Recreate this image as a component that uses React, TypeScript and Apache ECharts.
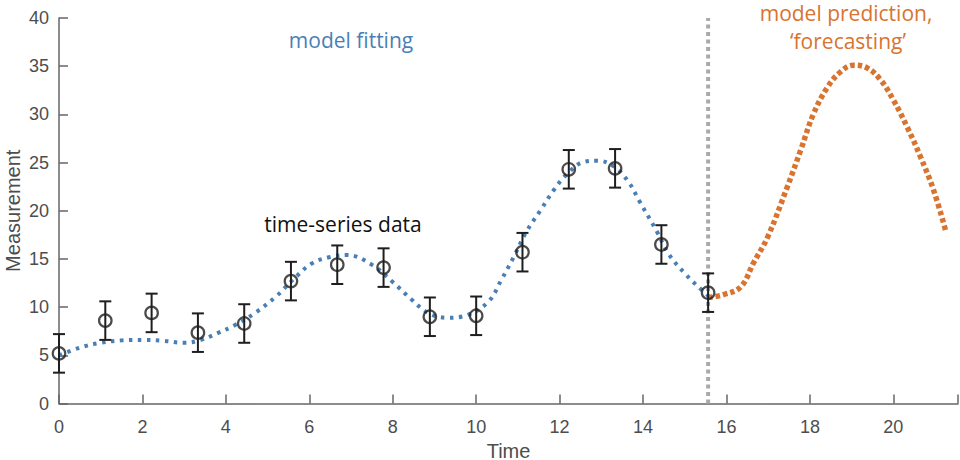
import React, { useEffect, useRef } from "react";
import * as echarts from "echarts";

// Observed time-series data (time, measurement, error half-width)
const dataTime = [0, 1.11, 2.22, 3.33, 4.44, 5.56, 6.67, 7.78, 8.89, 10.0, 11.11, 12.22, 13.33, 14.44, 15.56];
const dataValue = [5.2, 8.6, 9.4, 7.35, 8.3, 12.7, 14.4, 14.1, 9.0, 9.1, 15.7, 24.3, 24.4, 16.5, 11.5];
const dataError = [2, 2, 2, 2, 2, 2, 2, 2, 2, 2, 2, 2, 2, 2, 2];

// Model fit curve
const fitTime = [0, 0.5, 1.0, 1.5, 2.0, 2.5, 3.0, 3.4, 3.8, 4.2, 4.7, 5.2, 5.6, 6.05, 6.5, 6.9, 7.5, 8.0, 8.45, 8.85, 9.3, 9.8, 10.3, 10.6, 10.9, 11.2, 11.55, 11.87, 12.2, 12.6, 12.9, 13.3, 13.65, 13.9, 14.35, 14.6, 15.0, 15.4, 15.56];
const fitValue = [5.0, 5.8, 6.3, 6.55, 6.6, 6.5, 6.3, 6.6, 7.3, 8.1, 9.4, 11.1, 12.8, 14.5, 15.2, 15.4, 14.4, 12.6, 10.8, 9.4, 8.9, 9.2, 10.6, 12.8, 15.2, 17.8, 20.1, 22.2, 23.9, 25.1, 25.2, 24.6, 23.0, 21.1, 17.7, 15.6, 13.5, 11.8, 11.2];

// Forecast curve
const forecastTime = [15.56, 15.93, 16.34, 16.65, 16.99, 17.46, 17.78, 18.09, 18.42, 18.73, 19.04, 19.38, 19.69, 20.0, 20.33, 20.65, 20.96, 21.25];
const forecastValue = [11.0, 11.3, 12.1, 14.6, 17.3, 22.5, 26.3, 30.1, 32.8, 34.4, 35.1, 34.8, 33.6, 31.5, 28.7, 25.6, 22.2, 18.0];

// Boundary between fitting and forecasting
const splitTime = 15.56;
const yRange = [0, 40];
const xRange = [0, 21.55];

const xTicks = [0, 2, 4, 6, 8, 10, 12, 14, 16, 18, 20];

const BLUE = "#4a7fb6";
const ORANGE = "#d8742f";
const AXIS = "#666666";
const LABEL = "#4d4d4d";
const ANNOT_FONT = "'Open Sans', 'Noto Sans', sans-serif";
const AXIS_FONT = "'Liberation Sans', Arial, sans-serif";

export default function App() {
  const ref = useRef<HTMLDivElement>(null);

  useEffect(() => {
    if (!ref.current) return;
    const chart = echarts.init(ref.current, undefined, { renderer: "svg" });

    const pts = dataTime.map((t, i) => [t, dataValue[i]]);
    const errs = dataTime.map((t, i) => [t, dataValue[i] - dataError[i], dataValue[i] + dataError[i]]);

    const option: any = {
      animation: false,
      backgroundColor: "#ffffff",
      grid: { left: 59, right: 2, top: 18, bottom: 56.5, containLabel: false, outerBoundsMode: "none" },
      xAxis: {
        type: "value",
        min: xRange[0],
        max: xRange[1],
        interval: 2,
        name: "Time",
        nameLocation: "middle",
        nameGap: 37,
        nameMoveOverlap: false,
        nameTextStyle: { color: LABEL, fontSize: 20, fontFamily: AXIS_FONT },
        axisLine: { show: true, lineStyle: { color: AXIS, width: 1.5 } },
        axisTick: { show: true, inside: true, length: 9, lineStyle: { color: AXIS, width: 1.5 } },
        axisLabel: {
          color: LABEL,
          fontSize: 18,
          fontFamily: AXIS_FONT,
          margin: 14,
          formatter: (v: number) => (xTicks.includes(v) ? String(v) : ""),
        },
        splitLine: { show: false },
      },
      yAxis: {
        type: "value",
        min: yRange[0],
        max: yRange[1],
        interval: 5,
        name: "Measurement",
        nameLocation: "middle",
        nameGap: 36,
        nameMoveOverlap: false,
        nameRotate: 90,
        nameTextStyle: { color: LABEL, fontSize: 20, fontFamily: AXIS_FONT },
        axisLine: { show: true, lineStyle: { color: AXIS, width: 1.5 } },
        axisTick: { show: true, inside: true, length: 9, lineStyle: { color: AXIS, width: 1.5 } },
        axisLabel: { color: LABEL, fontSize: 18, fontFamily: AXIS_FONT, margin: 10 },
        splitLine: { show: false },
      },
      series: [
        {
          type: "line",
          name: "split",
          data: [
            [splitTime, yRange[0]],
            [splitTime, yRange[1]],
          ],
          symbol: "none",
          lineStyle: { color: "#aaaaaa", width: 4, type: [4, 3.5] },
          z: 1,
        },
        {
          type: "line",
          name: "fit",
          data: fitTime.map((t, i) => [t, fitValue[i]]),
          smooth: 0.4,
          symbol: "none",
          lineStyle: { color: BLUE, width: 4, type: [3.5, 5.5] },
          z: 2,
        },
        {
          type: "line",
          name: "forecast",
          data: forecastTime.map((t, i) => [t, forecastValue[i]]),
          smooth: 0.4,
          symbol: "none",
          lineStyle: { color: ORANGE, width: 5.5, type: [4.5, 3] },
          z: 2,
        },
        {
          type: "custom",
          name: "errors",
          data: errs,
          z: 3,
          renderItem: (params: any, api: any) => {
            const x = api.value(0);
            const lo = api.coord([x, api.value(1)]);
            const hi = api.coord([x, api.value(2)]);
            const cap = 6;
            const style = { stroke: "#1e1e1e", lineWidth: 2 };
            return {
              type: "group",
              children: [
                { type: "line", shape: { x1: lo[0], y1: lo[1], x2: hi[0], y2: hi[1] }, style },
                { type: "line", shape: { x1: lo[0] - cap, y1: lo[1], x2: lo[0] + cap, y2: lo[1] }, style },
                { type: "line", shape: { x1: hi[0] - cap, y1: hi[1], x2: hi[0] + cap, y2: hi[1] }, style },
              ],
            };
          },
        },
        {
          type: "scatter",
          name: "data",
          data: pts,
          symbol: "circle",
          symbolSize: 12.5,
          itemStyle: { color: "rgba(0,0,0,0)", borderColor: "#1e1e1e", borderWidth: 2.2 },
          z: 4,
        },
      ],
      graphic: [
        {
          type: "text",
          x: 351,
          y: 40,
          style: { text: "model fitting", fill: BLUE, font: `21px ${ANNOT_FONT}`, align: "center", verticalAlign: "middle" },
        },
        {
          type: "text",
          x: 343,
          y: 224,
          style: { text: "time-series data", fill: "#111111", font: `21px ${ANNOT_FONT}`, align: "center", verticalAlign: "middle" },
        },
        {
          type: "text",
          x: 846,
          y: 13,
          style: { text: "model prediction,", fill: ORANGE, font: `21px ${ANNOT_FONT}`, align: "center", verticalAlign: "middle" },
        },
        {
          type: "text",
          x: 848,
          y: 41,
          style: { text: "\u2018forecasting\u2019", fill: ORANGE, font: `21px ${ANNOT_FONT}`, align: "center", verticalAlign: "middle" },
        },
      ],
    };

    chart.setOption(option);
    return () => chart.dispose();
  }, []);

  return (
    <div
      ref={ref}
      style={{ position: "fixed", left: 0, top: 0, width: 960, height: 460, background: "#fff" }}
    />
  );
}
